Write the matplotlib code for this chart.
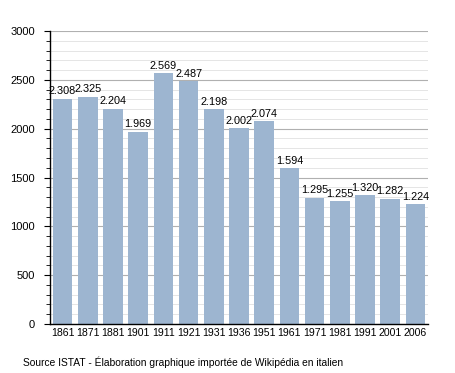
import matplotlib.pyplot as plt
from matplotlib.ticker import MultipleLocator

plt.rcParams['font.family'] = ['Liberation Sans', 'DejaVu Sans']

anni = ['1861', '1871', '1881', '1901', '1911', '1921', '1931', '1936',
        '1951', '1961', '1971', '1981', '1991', '2001', '2006']
abitanti = [2308, 2325, 2204, 1969, 2569, 2487, 2198, 2002,
            2074, 1594, 1295, 1255, 1320, 1282, 1224]
etichette = ['2.308', '2.325', '2.204', '1.969', '2.569', '2.487', '2.198', '2.002',
             '2.074', '1.594', '1.295', '1.255', '1.320', '1.282', '1.224']

fig = plt.figure(figsize=(4.55, 3.73), dpi=100)
ax = fig.add_axes([50 / 455, 1 - 324 / 373, 378 / 455, 293 / 373])

x = list(range(len(anni)))
ax.bar(x, abitanti, width=0.78, color='#9db5d0', zorder=2)
for i in x:
    ax.text(i, abitanti[i] + 25, etichette[i], ha='center', va='bottom',
            fontsize=7.8, zorder=3)

ax.set_xlim(-0.5, len(anni) - 0.5)
ax.set_ylim(0, 3000)
ax.set_xticks(x)
ax.set_xticklabels(anni, fontsize=7.6)
ax.yaxis.set_major_locator(MultipleLocator(500))
ax.yaxis.set_minor_locator(MultipleLocator(100))
ax.tick_params(axis='y', labelsize=8, length=4, width=0.8, pad=7)
ax.tick_params(axis='y', which='minor', length=3, width=0.6)
ax.tick_params(axis='x', length=0, pad=3)
ax.grid(axis='y', which='major', color='#b0b0b0', linewidth=0.8, zorder=0)
ax.grid(axis='y', which='minor', color='#e0e0e0', linewidth=0.6, zorder=0)
ax.set_axisbelow(True)
for s in ['top', 'right']:
    ax.spines[s].set_visible(False)
ax.spines['left'].set_linewidth(1)
ax.spines['bottom'].set_linewidth(1)

fig.text(23 / 455, 1 - 362 / 373,
         'Source ISTAT - Élaboration graphique importée de Wikipédia en italien',
         fontsize=7.4, va='center')

fig.savefig('out.png', dpi=100)
